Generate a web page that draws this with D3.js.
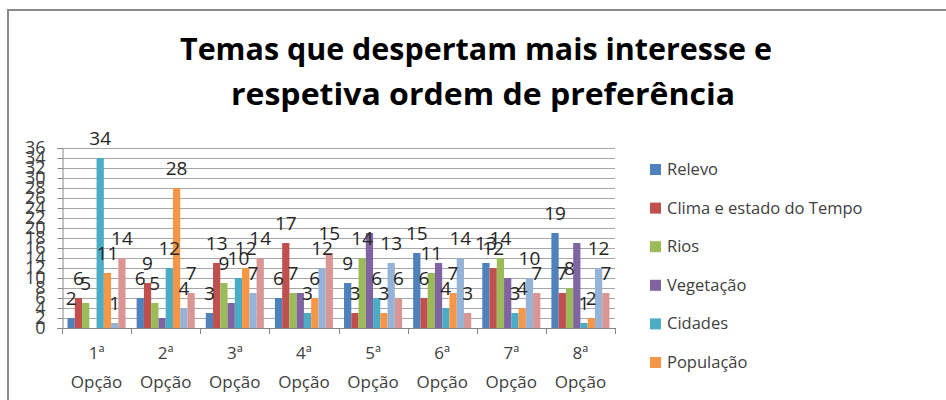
<!DOCTYPE html>
<html>
<head>
<meta charset="utf-8">
<script src="https://cdn.jsdelivr.net/npm/d3@7"></script>
<style>
  body { margin: 0; background: #fff; }
  svg { display: block; font-family: "Open Sans", sans-serif; }
</style>
</head>
<body>
<div id="chart"></div>
<script>
// categories (x axis)
const categories = ["1ª", "2ª", "3ª", "4ª", "5ª", "6ª", "7ª", "8ª"];
// series (the last two are cut off from the legend in the original)
const seriesNames = ["Relevo", "Clima e estado do Tempo", "Rios", "Vegetação", "Cidades", "População", "s7", "s8"];
const legendNames = ["Relevo", "Clima e estado do Tempo", "Rios", "Vegetação", "Cidades", "População"];
const colors = ["#4F81BD", "#C0504D", "#9BBB59", "#8064A2", "#4BACC6", "#F79646", "#95B3D7", "#D99694"];

// values per series, one per option
const relevo    = [2, 6, 3, 6, 9, 15, 13, 19];
const clima     = [6, 9, 13, 17, 3, 6, 12, 7];
const rios      = [5, 5, 9, 7, 14, 11, 14, 8];
const vegetacao = [0, 2, 5, 7, 19, 13, 10, 17];
const cidades   = [34, 12, 10, 3, 6, 4, 3, 1];
const populacao = [11, 28, 12, 6, 3, 7, 4, 2];
const serie7    = [1, 4, 7, 12, 13, 14, 10, 12];
const serie8    = [14, 7, 14, 15, 6, 3, 7, 7];
const values = [relevo, clima, rios, vegetacao, cidades, populacao, serie7, serie8];
// the Vegetação series has no data labels in the original
const showLabel = [true, true, true, false, true, true, true, true];

const yTicks = d3.range(0, 37, 2);

const width = 946, height = 400;
const svg = d3.select("#chart").append("svg")
    .attr("width", width)
    .attr("height", height);

svg.append("rect")
    .attr("x", 8).attr("y", 10)
    .attr("width", 960).attr("height", 420)
    .attr("fill", "#fff")
    .attr("stroke", "#8a8a8a")
    .attr("stroke-width", 2);

// title
svg.append("text")
    .attr("x", 180).attr("y", 60)
    .attr("textLength", 592).attr("lengthAdjust", "spacingAndGlyphs")
    .style("font-size", "31px").style("font-weight", "bold")
    .text("Temas que despertam mais interesse e");
svg.append("text")
    .attr("x", 231).attr("y", 105)
    .attr("textLength", 504).attr("lengthAdjust", "spacingAndGlyphs")
    .style("font-size", "31px").style("font-weight", "bold")
    .text("respetiva ordem de preferência");

const plot = { left: 62, right: 615, top: 148, bottom: 328 };

const y = d3.scaleLinear().domain([0, 36]).range([plot.bottom, plot.top]);
const x0 = d3.scaleBand().domain(categories)
    .range([plot.left, plot.right])
    .paddingInner(0.16).paddingOuter(0.08);
const x1 = d3.scaleBand().domain(d3.range(seriesNames.length))
    .range([0, x0.bandwidth()]);

// gridlines
svg.append("g").selectAll("line")
    .data(yTicks)
    .join("line")
    .attr("x1", plot.left).attr("x2", plot.right)
    .attr("y1", d => Math.round(y(d)) + 0.5).attr("y2", d => Math.round(y(d)) + 0.5)
    .attr("stroke", "#a6a6a6");

// y axis
const yAxis = svg.append("g")
    .attr("transform", `translate(${plot.left + 0.5},0)`)
    .call(d3.axisLeft(y).tickValues(yTicks).tickSize(5).tickPadding(12));
yAxis.select(".domain").attr("stroke", "#868686");
yAxis.selectAll(".tick line").attr("stroke", "#868686");
yAxis.selectAll(".tick text")
    .attr("fill", "#404040")
    .style("font-size", "18px")
    .style("font-family", "'Open Sans', sans-serif");

// bars
const groups = svg.append("g").selectAll("g")
    .data(categories)
    .join("g")
    .attr("transform", d => `translate(${x0(d)},0)`);

groups.selectAll("rect")
    .data((d, i) => values.map((s, k) => ({ k, v: s[i] })))
    .join("rect")
    .attr("x", d => x1(d.k))
    .attr("y", d => y(d.v))
    .attr("width", x1.bandwidth())
    .attr("height", d => y(0) - y(d.v))
    .attr("fill", d => colors[d.k]);

groups.selectAll("text")
    .data((d, i) => values.map((s, k) => ({ k, v: s[i] })).filter(d => showLabel[d.k]))
    .join("text")
    .attr("x", d => x1(d.k) + x1.bandwidth() / 2)
    .attr("y", d => y(d.v) - 13)
    .attr("text-anchor", "middle")
    .attr("fill", "#262626")
    .style("font-size", "19px")
    .text(d => d.v);

// x axis
svg.append("line")
    .attr("x1", plot.left).attr("x2", plot.right)
    .attr("y1", plot.bottom + 0.5).attr("y2", plot.bottom + 0.5)
    .attr("stroke", "#868686");
svg.append("g").selectAll("line")
    .data(d3.range(categories.length + 1))
    .join("line")
    .attr("x1", i => Math.round(plot.left + i * (plot.right - plot.left) / categories.length) + 0.5)
    .attr("x2", i => Math.round(plot.left + i * (plot.right - plot.left) / categories.length) + 0.5)
    .attr("y1", plot.bottom).attr("y2", plot.bottom + 6)
    .attr("stroke", "#868686");

const catLabels = svg.append("g").selectAll("text")
    .data(categories)
    .join("text")
    .attr("text-anchor", "middle")
    .attr("fill", "#404040")
    .style("font-size", "17px");
catLabels.append("tspan").attr("x", d => x0(d) + x0.bandwidth() / 2).attr("y", 359).text(d => d);
catLabels.append("tspan").attr("x", d => x0(d) + x0.bandwidth() / 2).attr("y", 388).text("Opção");

// legend
const legend = svg.append("g").selectAll("g")
    .data(legendNames)
    .join("g")
    .attr("transform", (d, i) => `translate(650,${169 + i * 38.6})`);
legend.append("rect")
    .attr("x", 0).attr("y", -5)
    .attr("width", 11).attr("height", 11)
    .attr("fill", (d, i) => colors[i]);
legend.append("text")
    .attr("x", 17).attr("y", 6)
    .attr("fill", "#404040")
    .style("font-size", "16.5px")
    .text(d => d);
</script>
</body>
</html>
